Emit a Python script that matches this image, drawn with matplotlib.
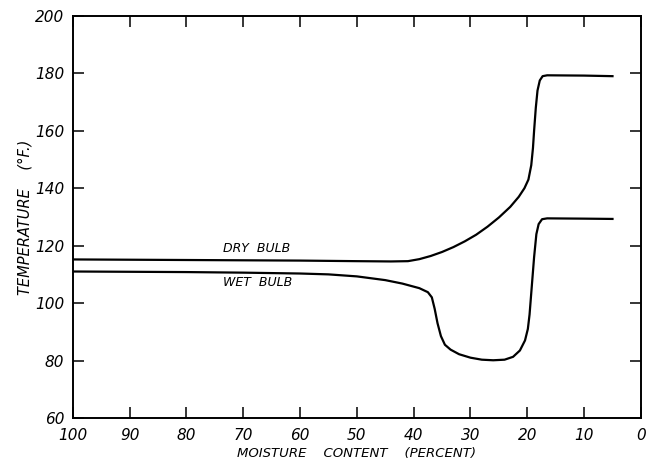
import matplotlib
matplotlib.use("Agg")
import matplotlib.pyplot as plt

# moisture content (percent) and temperatures (deg F)
dry_moist = [100, 90, 80, 70, 60, 50, 44, 41, 39, 37, 35, 33, 31, 29, 27, 25, 23,
             21.5, 20.5, 19.8, 19.3, 19.0, 18.8, 18.5, 18.2, 17.8, 17.3, 16.5, 10, 5]
dry_temp = [115.2, 115.1, 115.0, 114.9, 114.8, 114.6, 114.5, 114.6, 115.3, 116.4,
            117.8, 119.5, 121.5, 123.8, 126.6, 129.8, 133.5, 137, 140, 143, 148,
            154, 160, 168, 174, 177.5, 179, 179.3, 179.2, 179]

wet_moist = [100, 90, 80, 70, 60, 55, 50, 45, 42, 39, 37.5, 36.8, 36.3, 35.8, 35.2,
             34.5, 33.5, 32, 30, 28, 26, 24, 22.5, 21.3, 20.4, 19.9, 19.6, 19.2,
             18.8, 18.4, 18, 17.4, 16.5, 10, 5]
wet_temp = [111, 110.9, 110.8, 110.6, 110.3, 110, 109.3, 108, 106.8, 105.2, 103.8,
            102, 98, 93, 88.5, 85.5, 83.8, 82.2, 81, 80.3, 80.1, 80.3, 81.3, 83.5,
            87, 91, 96, 106, 116, 124, 127.5, 129.2, 129.5, 129.4, 129.3]

xticks = [100, 90, 80, 70, 60, 50, 40, 30, 20, 10, 0]
yticks = [60, 80, 100, 120, 140, 160, 180, 200]

fig = plt.figure(figsize=(6.5, 4.66), dpi=100)
ax = fig.add_axes([0.112, 0.103, 0.874, 0.863])

ax.plot(dry_moist, dry_temp, color="black", lw=1.6)
ax.plot(wet_moist, wet_temp, color="black", lw=1.6)

ax.set_xlim(100, 0)
ax.set_ylim(60, 200)
ax.set_xticks(xticks)
ax.set_yticks(yticks)
ax.set_xticklabels([str(t) for t in xticks], fontsize=11, style="italic")
ax.set_yticklabels([str(t) for t in yticks], fontsize=11, style="italic")
ax.tick_params(direction="in", length=8, width=1.1, top=True, right=True)
ax.tick_params(axis="x", pad=7)
ax.tick_params(axis="y", pad=6)

for s in ax.spines.values():
    s.set_linewidth(1.4)

ax.text(73.5, 116.8, "DRY  BULB", fontsize=9, style="italic", ha="left", va="bottom")
ax.text(73.5, 109.5, "WET  BULB", fontsize=9, style="italic", ha="left", va="top")

ax.set_xlabel("MOISTURE    CONTENT    (PERCENT)", fontsize=9.5, style="italic", labelpad=3)
ax.set_ylabel("TEMPERATURE    (°F.)", fontsize=10.5, style="italic", labelpad=2)

fig.savefig("out.png", dpi=100)
